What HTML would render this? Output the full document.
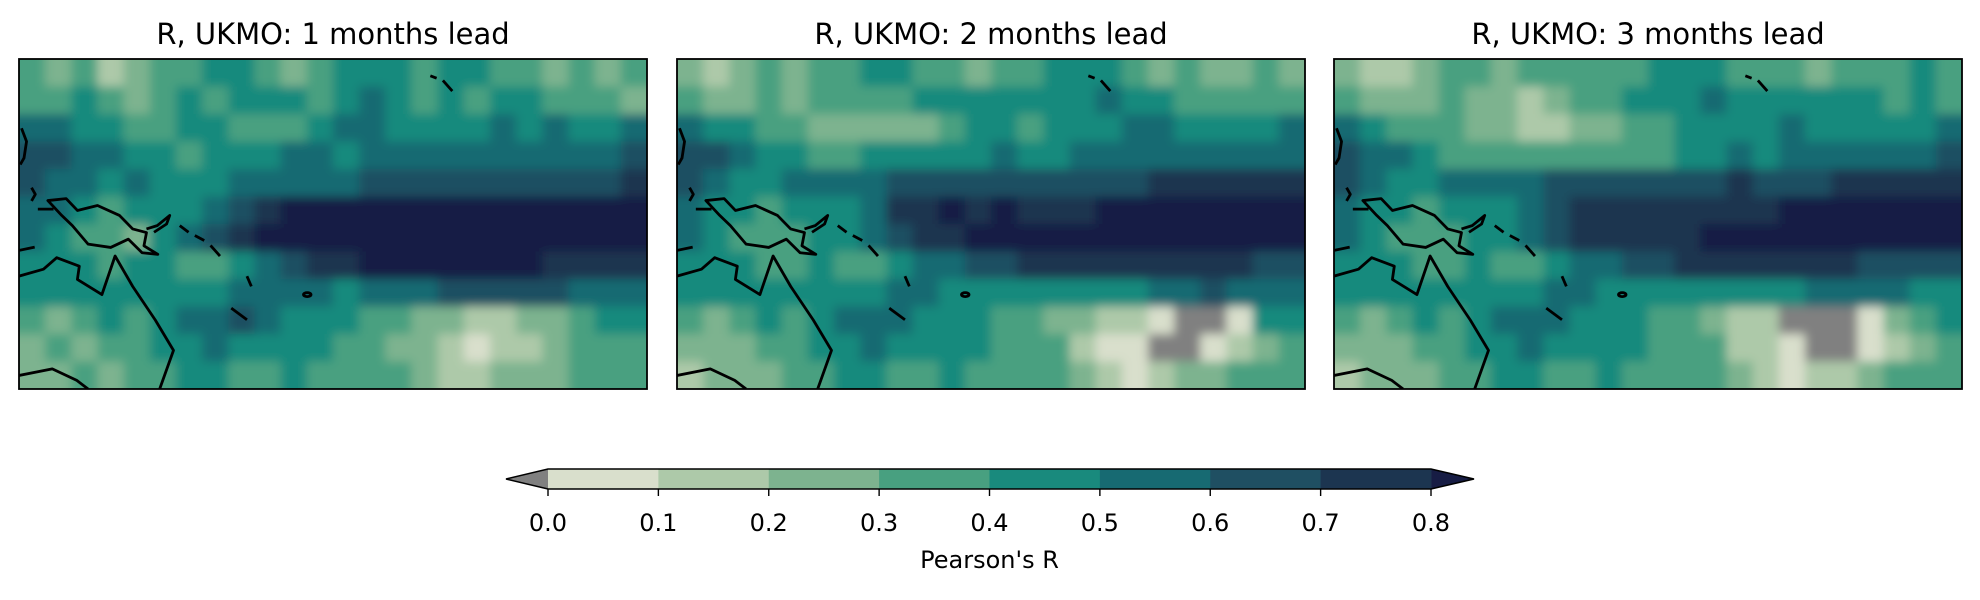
<!DOCTYPE html>
<html><head><meta charset="utf-8">
<style>
html,body{margin:0;padding:0;background:#fff;}
body{width:1980px;height:596px;overflow:hidden;font-family:"DejaVu Sans","Liberation Sans",sans-serif;}
</style></head>
<body>
<svg id="fig" width="1980" height="596" viewBox="0 0 1980 596" xmlns="http://www.w3.org/2000/svg">
<defs>
<filter id="bl" x="-10%" y="-10%" width="120%" height="120%"><feGaussianBlur stdDeviation="5"/></filter>
</defs>
</svg>
<script>
const binColors = ["#d9dfcc","#adc9a9","#7db38f","#48a080","#198a7d","#176a72","#1f4f62","#1c3550"];
const overColor = "#171c44";
const underColor = "#808080";
const colorbarTicks = ["0.0","0.1","0.2","0.3","0.4","0.5","0.6","0.7","0.8"];
const panelTitles = ["R, UKMO: 1 months lead","R, UKMO: 2 months lead","R, UKMO: 3 months lead"];
// grid values: digit = bin index (0..7), 8 = above 0.8, g = below 0
const field1 = [
"323123344323444344332323",
"334323434443454343443332",
"554433443334554444545445",
"665544344455455555555556",
"655454445555566666666667",
"554344456788888888888888",
"543324567888888888888888",
"444344334567788888887777",
"444444445555455566666555",
"323434556544433221122344",
"232334454444332210112333",
"223233443343333211222333"];
const field2 = [
"212323344332334443232232",
"322323333444444454433333",
"544332222234434445544445",
"665443344444544555555555",
"654455556666666666777777",
"544344457787877788888888",
"543334456778888888888888",
"444334334556677777777766",
"444444445544444444556555",
"3234345554443322110gg044",
"222334454444333100gg0123",
"122233443343333210122333"];
const field3 = [
"211233233333444333233343",
"322232212334445444444343",
"543332211223344445444445",
"655433333333344545555556",
"654455556666666766677777",
"544344456777777778888888",
"543334456777778888888888",
"444334334556677777776666",
"444444445544444444555544",
"32343455544433211ggg0234",
"222334454444333110gg0123",
"122233443343333210112333"];
const fields = [field1, field2, field3];
const panelX = [19, 677, 1334];
const panelY = 59, panelW = 628, panelH = 330;
const NS = "http://www.w3.org/2000/svg";
const fig = document.getElementById('fig');
function mk(tag, attrs, parent){const e=document.createElementNS(NS,tag);for(const k in attrs)e.setAttribute(k,attrs[k]);(parent||fig).appendChild(e);return e;}
function colorOf(ch){if(ch==='g')return underColor; const d=+ch; return d>=8?overColor:binColors[d];}

const coastPaths = [
"M4.6,42.9 L7.5,42.3 L9.3,45.9 L12.5,44.4 L16,47.4 L18.1,51.5 L20.3,52.6 L19.9,56.6 L22.1,59.2 L19.6,58.7 L17.4,54.6 L14.6,57.1 L11,56.1 L8.5,50.5 L6.8,47.4 Z",
"M0,65.8 L3.9,63.7 L6,60.2 L9.6,62.8 L9.3,66.8 L13.2,71.4 L15.3,59.7 L18.1,68.9 L21.7,79.1 L24.6,88.3 L22.4,100",
"M0,95.9 L5.3,93.9 L9.2,97.4 L11,100",
"M20.3,51.5 L22,50.5 L24,47.4 L23.5,50 L21.5,52.5",
"M25.6,50.5 L27,52.5 M28,53.5 L29.5,55 M30.5,56.5 L32,59.7",
"M36.3,65.8 L37,68.9",
"M33.8,75.5 L36.3,79",
"M65.5,5.1 L66.5,5.8 M67.5,6.5 L69,9.7",
"M0.4,21 L1.2,25 L0.8,30 L0.2,32",
"M2,39 L2.6,41 L2,43",
"M0,58 L2.5,57",
"M3,45.5 L5.5,45.5"
];

for(let p=0;p<3;p++){
  const g = mk('g',{});
  const x0=panelX[p];
  const cp = mk('clipPath',{id:'clip'+p},g);
  mk('rect',{x:x0,y:panelY,width:panelW,height:panelH},cp);
  const inner = mk('g',{'clip-path':'url(#clip'+p+')'},g);
  const heat = mk('g',{filter:'url(#bl)'},inner);
  
  
  const f = fields[p];
  const rows=f.length, cols=f[0].length;
  const cw=panelW/cols, ch=panelH/rows;
  for(let r=-1;r<=rows;r++)for(let c=-1;c<=cols;c++){
    const rr=Math.min(rows-1,Math.max(0,r)), cc=Math.min(cols-1,Math.max(0,c));
    const cell = mk('rect',{x:x0+c*cw,y:panelY+r*ch,width:cw+0.6,height:ch+0.6,fill:colorOf(f[rr][cc])},heat);
    
    
  }
  const coast = mk('g',{transform:`translate(${x0},${panelY}) scale(${panelW/100},${panelH/100})`},inner);
  
  
  coastPaths.forEach(d=>mk('path',{d:d,fill:'none',stroke:'#000','stroke-width':2.8,'vector-effect':'non-scaling-stroke','stroke-linejoin':'round'},coast));
  mk('circle',{cx:45.9,cy:71.4,r:0.6,fill:'none',stroke:'#000','stroke-width':2.8,'vector-effect':'non-scaling-stroke'},coast);
  const frame = mk('rect',{x:x0,y:panelY,width:panelW,height:panelH,fill:'none',stroke:'#000','stroke-width':1.8},g);
  
  
  const t = mk('text',{x:x0+panelW/2,y:44,'text-anchor':'middle','font-size':29,fill:'#000'},g);
  
  
  t.textContent = panelTitles[p];
}

// colorbar
const cb = mk('g',{});


const cbX0=548, cbX1=1431, cbY=469, cbH=20;
const sw=(cbX1-cbX0)/binColors.length;
mk('polygon',{points:`${cbX0},${cbY} ${cbX0},${cbY+cbH} 506,${cbY+cbH/2}`,fill:underColor},cb);
mk('polygon',{points:`${cbX1},${cbY} ${cbX1},${cbY+cbH} 1474,${cbY+cbH/2}`,fill:overColor},cb);
binColors.forEach((c,i)=>{
  const r=mk('rect',{x:cbX0+i*sw,y:cbY,width:sw+0.5,height:cbH,fill:c},cb);
  
  
});
mk('polygon',{points:`506,${cbY+cbH/2} ${cbX0},${cbY} ${cbX1},${cbY} 1474,${cbY+cbH/2} ${cbX1},${cbY+cbH} ${cbX0},${cbY+cbH}`,fill:'none',stroke:'#000','stroke-width':1.5},cb);
colorbarTicks.forEach((lab,i)=>{
  const x=cbX0+i*(cbX1-cbX0)/(colorbarTicks.length-1);
  mk('line',{x1:x,y1:cbY+cbH,x2:x,y2:cbY+cbH+7,stroke:'#000','stroke-width':1.4},cb);
  const t=mk('text',{x:x,y:531,'text-anchor':'middle','font-size':24,fill:'#000'},cb);
  
  
  t.textContent=lab;
});
const cl=mk('text',{x:(cbX0+cbX1)/2,y:568,'text-anchor':'middle','font-size':24,fill:'#000'},cb);


cl.textContent="Pearson's R";
</script>
</body></html>
